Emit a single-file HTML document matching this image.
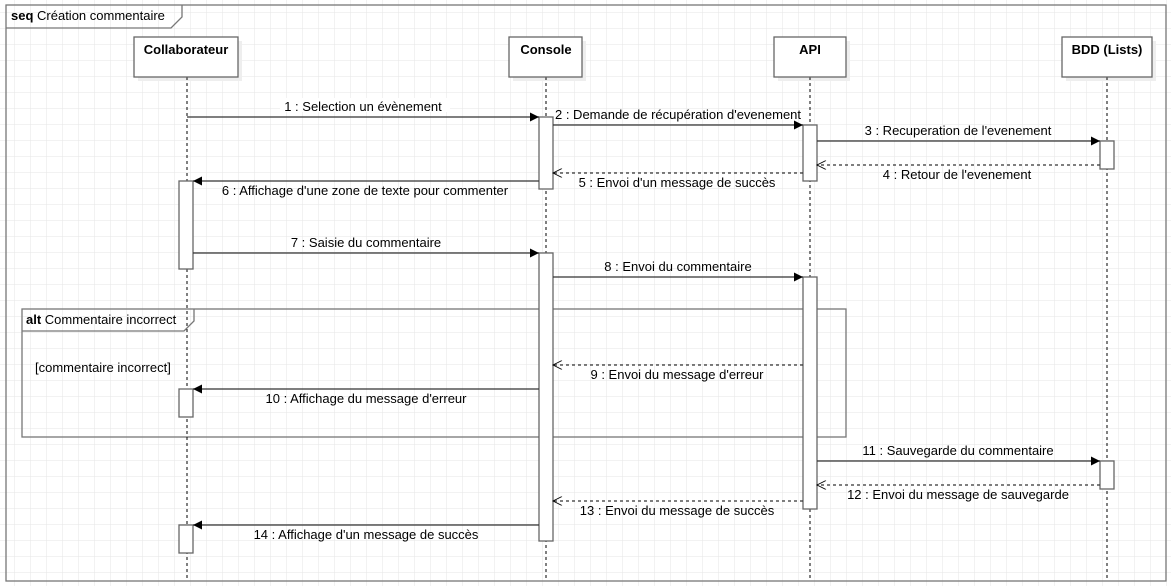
<!DOCTYPE html>
<html><head><meta charset="utf-8"><style>
html,body{margin:0;padding:0;background:#fff}
svg{display:block}
text{font-family:"Liberation Sans",sans-serif;font-size:13px;fill:#000}
</style></head><body>
<svg width="1171" height="586" viewBox="0 0 1171 586" xmlns="http://www.w3.org/2000/svg">
<defs>
<pattern id="g" x="14" y="12" width="16" height="16" patternUnits="userSpaceOnUse">
<path d="M0 0H16M0 0V16" stroke="#e6e6e6" stroke-width="1" fill="none"/>
</pattern>
<marker id="f" viewBox="0 0 10 10" refX="10" refY="5" markerWidth="11" markerHeight="9" orient="auto" markerUnits="userSpaceOnUse"><path d="M0 0L10 5L0 10z" fill="#000"/></marker>
<marker id="o" viewBox="0 0 10 10" refX="10" refY="5" markerWidth="11" markerHeight="9" orient="auto" markerUnits="userSpaceOnUse"><path d="M0 0L10 5L0 10" fill="none" stroke="#000" stroke-width="1"/></marker>
</defs>
<rect width="1171" height="586" fill="url(#g)"/>
<g fill="none" stroke="#777" stroke-width="1.3">
<rect x="6" y="5" width="1160" height="576"/>
<path d="M6 28H171L182 17V5"/>
<rect x="22" y="309" width="824" height="128"/>
<path d="M22 331H184L194 321V309"/>
</g>
<text x="11" y="20"><tspan font-weight="bold">seq</tspan>  Création commentaire</text>
<text x="26" y="324"><tspan font-weight="bold">alt</tspan>  Commentaire incorrect</text>
<text x="35" y="372">[commentaire incorrect]</text>
<g fill="#eee"><rect x="138" y="41" width="104" height="40"/><rect x="513" y="41" width="73" height="40"/><rect x="778" y="41" width="72" height="40"/><rect x="1066" y="41" width="90" height="40"/></g>
<g stroke="#000" stroke-dasharray="3,3" stroke-width="1">
<path d="M187 77V581M546 77V581M810 77V581M1107 77V581"/>
</g>
<g fill="#fff" stroke="#666" stroke-width="1.3">
<rect x="134" y="37" width="104" height="40"/><rect x="509" y="37" width="73" height="40"/><rect x="774" y="37" width="72" height="40"/><rect x="1062" y="37" width="90" height="40"/>
<rect x="539" y="117" width="14" height="72"/><rect x="803" y="125" width="14" height="56"/><rect x="1100" y="141" width="14" height="28"/>
<rect x="179" y="181" width="14" height="88"/><rect x="539" y="253" width="14" height="288"/><rect x="803" y="277" width="14" height="232"/>
<rect x="179" y="389" width="14" height="28"/><rect x="1100" y="461" width="14" height="28"/><rect x="179" y="525" width="14" height="28"/>
</g>
<g font-weight="bold" text-anchor="middle">
<text x="186" y="54" font-weight="bold">Collaborateur</text><text x="546" y="54" font-weight="bold">Console</text><text x="810" y="54" font-weight="bold">API</text><text x="1107" y="54" font-weight="bold">BDD (Lists)</text>
</g>
<g stroke="#333" stroke-width="1.3" fill="none">
<path d="M187 117H539" marker-end="url(#f)"/>
<path d="M553 125H803" marker-end="url(#f)"/>
<path d="M817 141H1100" marker-end="url(#f)"/>
<path d="M539 181H193" marker-end="url(#f)"/>
<path d="M193 253H539" marker-end="url(#f)"/>
<path d="M553 277H803" marker-end="url(#f)"/>
<path d="M539 389H193" marker-end="url(#f)"/>
<path d="M817 461H1100" marker-end="url(#f)"/>
<path d="M539 525H193" marker-end="url(#f)"/>
<g stroke-dasharray="3,3">
<path d="M1100 165H817" marker-end="url(#o)"/>
<path d="M803 173H553" marker-end="url(#o)"/>
<path d="M803 365H553" marker-end="url(#o)"/>
<path d="M1100 485H817" marker-end="url(#o)"/>
<path d="M803 501H553" marker-end="url(#o)"/>
</g>
</g>
<g text-anchor="middle">
<rect x="280" y="98" width="170" height="14" fill="#fff"/>
<text x="363" y="111">1 : Selection un évènement</text>
<text x="678" y="119">2 : Demande de récupération d'evenement</text>
<text x="958" y="135">3 : Recuperation de l'evenement</text>
<text x="957" y="179">4 : Retour de l'evenement</text>
<text x="677" y="187">5 : Envoi d'un message de succès</text>
<text x="365" y="195">6 : Affichage d'une zone de texte pour commenter</text>
<text x="366" y="247">7 : Saisie du commentaire</text>
<text x="678" y="271">8 : Envoi du commentaire</text>
<text x="677" y="379">9 : Envoi du message d'erreur</text>
<text x="366" y="403">10 : Affichage du message d'erreur</text>
<text x="958" y="455">11 : Sauvegarde du commentaire</text>
<text x="958" y="499">12 : Envoi du message de sauvegarde</text>
<text x="677" y="515">13 : Envoi du message de succès</text>
<text x="366" y="539">14 : Affichage d'un message de succès</text>
</g>
</svg>
</body></html>
